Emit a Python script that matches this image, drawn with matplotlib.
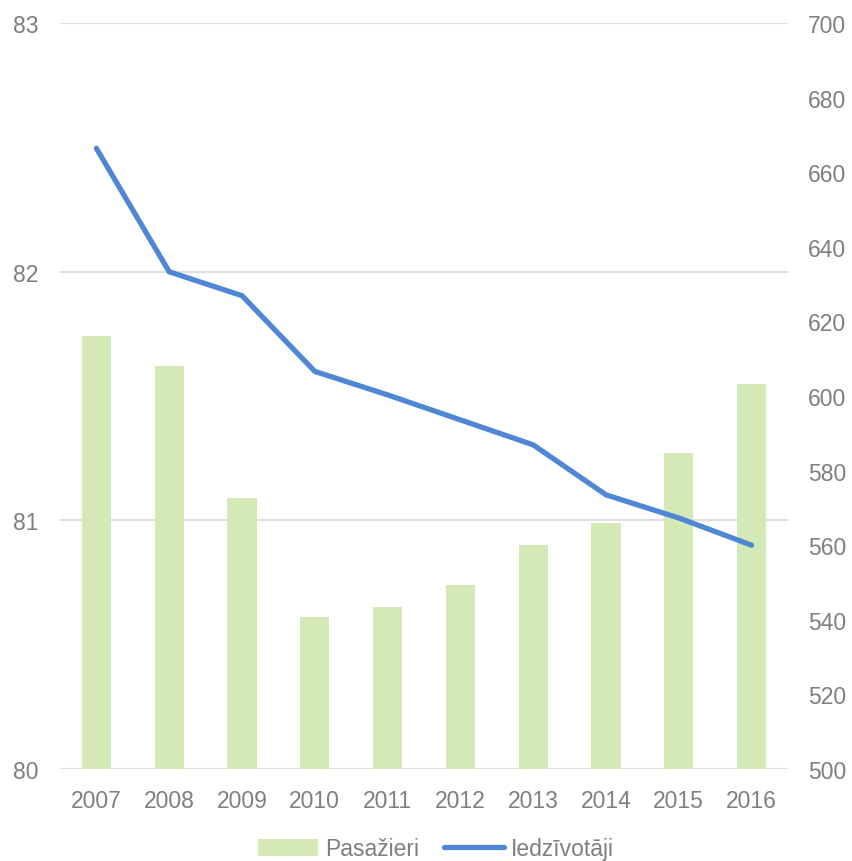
import matplotlib
matplotlib.use("Agg")
import matplotlib.pyplot as plt
import numpy as np

# Data
years = ["2007", "2008", "2009", "2010", "2011", "2012", "2013", "2014", "2015", "2016"]
pasazieri = [81.74, 81.62, 81.09, 80.61, 80.65, 80.74, 80.90, 80.99, 81.27, 81.55]
iedzivotaji = [666.4, 633.3, 626.9, 606.6, 600.3, 593.6, 586.9, 573.5, 567.3, 560.0]

bar_col = "#d3eab6"
line_col = "#5087d5"
txt_col = "#7f7f7f"
grid_col = "#dedede"
fs = 16.5

plt.rcParams["font.family"] = ["Liberation Sans", "DejaVu Sans"]

fig = plt.figure(figsize=(8.53, 8.62), dpi=100)
ax = fig.add_axes([60/853, 1 - 770/862, 728/853, 746/862])
ax2 = ax.twinx()

xs = np.arange(len(years))
ax.bar(xs, pasazieri, width=0.4, color=bar_col, label="Pasažieri", zorder=2)
ax2.plot(xs, iedzivotaji, color=line_col, lw=3.8, solid_capstyle="round",
         label="Iedzīvotāji", zorder=3)

ax.set_ylim(80, 83)
ax.set_yticks([80, 81, 82, 83])
ax2.set_ylim(500, 700)
ax2.set_yticks(np.arange(500, 701, 20))
ax.set_xlim(-0.5, len(years) - 0.5)
ax.set_xticks(xs)
ax.set_xticklabels(years)

ax.grid(axis="y", color=grid_col, lw=1.5, zorder=0)
ax.set_axisbelow(True)
for a in (ax, ax2):
    for s in a.spines.values():
        s.set_visible(False)
    a.tick_params(length=0, labelsize=fs, labelcolor=txt_col)
ax.tick_params(axis="y", pad=15.5)
ax.tick_params(axis="x", pad=14.5)
ax2.tick_params(axis="y", pad=14.5)

h1, l1 = ax.get_legend_handles_labels()
h2, l2 = ax2.get_legend_handles_labels()
fig.legend(h1 + h2, l1 + l2, loc="center", bbox_to_anchor=(436/853, 1 - 850/862),
           ncol=2, frameon=False, fontsize=fs, labelcolor=txt_col,
           handlelength=2.6, handletextpad=0.3, columnspacing=1.1)

plt.savefig("out.png", dpi=100)
plt.close()
